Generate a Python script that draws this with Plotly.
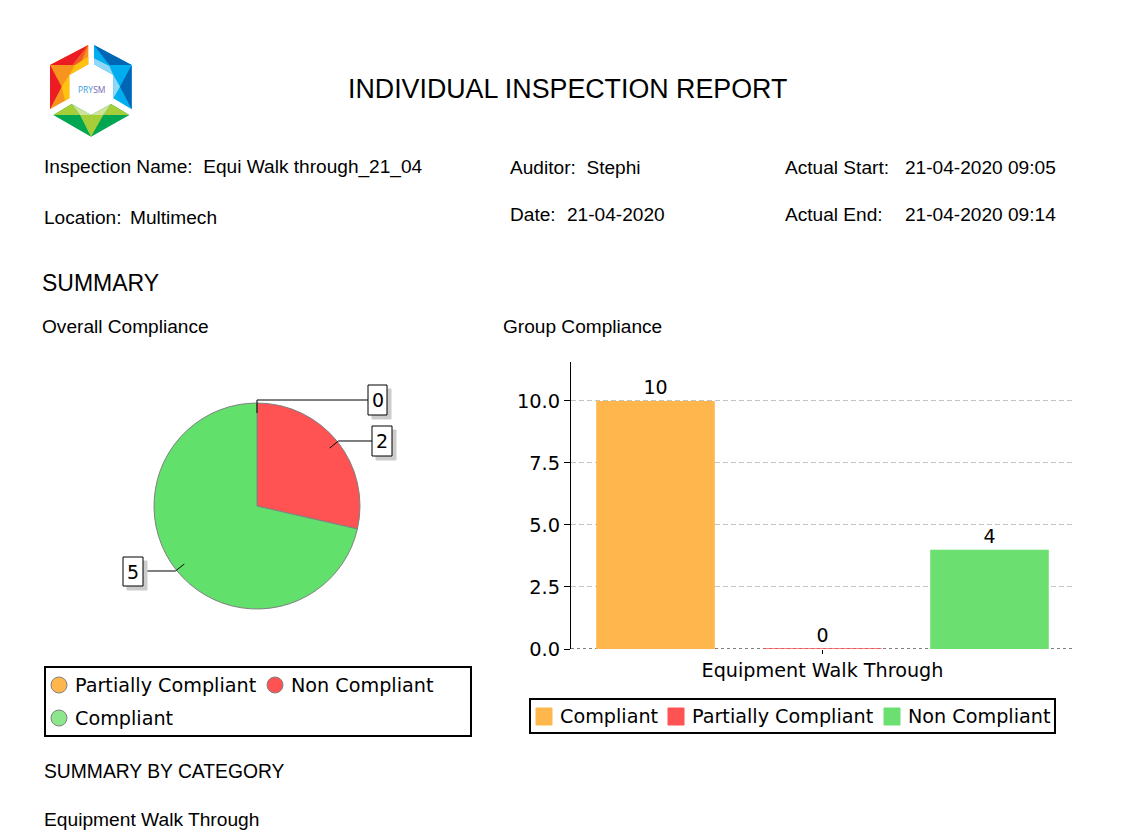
import math
import plotly.graph_objects as go

WIDTH = 1131
HEIGHT = 836

pie_names = ["Partially Compliant", "Non Compliant", "Compliant"]
pie_values = [0, 2, 5]
pie_colors = ["#FFB74D", "#FF5252", "#62E06C"]
pie_legend_colors = ["#FFB74D", "#FF5252", "#8CE68C"]

bar_category = ["Equipment Walk Through"]
bar_names = ["Compliant", "Partially Compliant", "Non Compliant"]
bar_values = [10, 0, 4]
bar_colors = ["#FFB74D", "#FF5252", "#6BE070"]
y_ticks = [0, 2.5, 5, 7.5, 10]

header_font = "Liberation Sans"
chart_font = "DejaVu Sans"


def px(x):
    return x / WIDTH


def py(y):
    return 1 - y / HEIGHT


def text(x, y, s, size=19.1, family=header_font, xanchor="left"):
    # annotations sit 2px in from their anchor
    shift = -2 if xanchor == "left" else 0
    return dict(x=px(x + shift), y=py(y), xref="paper", yref="paper", text=s, showarrow=False,
                xanchor=xanchor, yanchor="middle", font=dict(family=family, size=size, color="black"))


def rect(x0, y0, x1, y1, fill="white", line="black", w=1):
    return dict(type="rect", xref="paper", yref="paper", x0=px(x0), y0=py(y0), x1=px(x1), y1=py(y1),
                fillcolor=fill, line=dict(color=line, width=w))


def logo(points, color):
    # points are in a 3x zoom of the logo, origin at (30, 30)
    pts = [(px(a / 3 + 30), py(b / 3 + 30)) for a, b in points]
    path = "M" + "L".join(f"{a:.5f},{b:.5f}" for a, b in pts) + "Z"
    return dict(type="path", xref="paper", yref="paper", path=path, fillcolor=color, line=dict(width=0))


shapes = []
annotations = []

# logo
shapes += [
    logo([(175, 45), (60, 105), (60, 238), (118, 205), (118, 135), (175, 103)], "#F7941D"),
    logo([(175, 45), (60, 105), (128, 105)], "#ED1C24"),
    logo([(60, 105), (60, 238), (95, 170)], "#ED1C24"),
    logo([(175, 45), (128, 105), (150, 105)], "#F15A24"),
    logo([(135, 105), (175, 80), (175, 103), (118, 135)], "#FFC20E"),
    logo([(95, 170), (118, 135), (118, 205), (105, 212)], "#FFC20E"),
    logo([(192, 45), (305, 105), (305, 238), (250, 205), (250, 135), (192, 103)], "#00AEEF"),
    logo([(192, 45), (305, 105), (238, 105)], "#0066B3"),
    logo([(305, 105), (305, 238), (270, 170)], "#0066B3"),
    logo([(192, 103), (192, 85), (238, 108), (250, 135)], "#8FD8F8"),
    logo([(250, 135), (270, 170), (250, 205)], "#8FD8F8"),
    logo([(70, 255), (125, 222), (183, 255), (243, 222), (298, 255), (183, 320)], "#00A651"),
    logo([(70, 255), (125, 222), (150, 255)], "#A6CE39"),
    logo([(298, 255), (243, 222), (220, 255)], "#A6CE39"),
    logo([(125, 222), (183, 255), (243, 222), (220, 255), (150, 255)], "#D0E39A"),
    logo([(150, 255), (220, 255), (183, 320)], "#A6CE39"),
]
annotations.append(text(91, 90, '<span style="color:#3AA0DC">PRY</span><span style="color:#7B5FB5">SM</span>',
                        size=8.5, family="Open Sans", xanchor="center"))

# header
annotations += [
    text(348, 89, "INDIVIDUAL INSPECTION REPORT", size=26.8),
    text(44, 167, "Inspection Name:&nbsp;&nbsp;Equi Walk through_21_04"),
    text(510, 167, "Auditor:&nbsp;&nbsp;Stephi"),
    text(785, 167, "Actual Start:"),
    text(905, 167, "21-04-2020 09:05"),
    text(44, 217, "Location:"),
    text(130, 217, "Multimech"),
    text(510, 215, "Date:"),
    text(567, 215, "21-04-2020"),
    text(785, 215, "Actual End:"),
    text(905, 215, "21-04-2020 09:14"),
    text(42, 283, "SUMMARY", size=23),
    text(42, 326, "Overall Compliance"),
    text(503, 326, "Group Compliance"),
    text(44, 771, "SUMMARY BY CATEGORY", size=19.3),
    text(44, 819, "Equipment Walk Through", size=19.2),
]

# pie leader lines and value boxes, placed from the slice mid angles
pie_cx, pie_cy, pie_r = 257, 506, 103
boxes = [(368, 385, 387, 415, 400), (372, 426, 392, 456, 441), (123, 557, 143, 586, 571)]
total = sum(pie_values)
start = 0
for val, (bx0, by0, bx1, by1, ly) in zip(pie_values, boxes):
    mid = math.radians((start + val / 2) / total * 360)
    start += val
    ix, iy = pie_cx + 93 * math.sin(mid), pie_cy - 93 * math.cos(mid)
    ex, ey = pie_cx + (pie_cy - ly) / math.cos(mid) * math.sin(mid), ly
    end_x = bx0 if ix > pie_cx or val == 0 else bx1
    path = f"M{px(ix):.5f},{py(iy):.5f}L{px(ex):.5f},{py(ey):.5f}L{px(end_x):.5f},{py(ey):.5f}"
    shapes.append(dict(type="path", xref="paper", yref="paper", path=path, line=dict(color="black", width=1)))
    shapes.append(rect(bx0 + 4, by0 + 4, bx1 + 4, by1 + 4, fill="#CCCCCC", line="#CCCCCC"))
    shapes.append(rect(bx0, by0, bx1, by1))
    annotations.append(text((bx0 + bx1) / 2, (by0 + by1) / 2, str(val), size=19, family=chart_font, xanchor="center"))

# pie legend
shapes.append(rect(45, 667, 471, 736, fill="rgba(0,0,0,0)", w=2))
pie_legend_pos = [(59, 685), (275, 685), (59, 718)]
for name, color, (lx, ly) in zip(pie_names, pie_legend_colors, pie_legend_pos):
    shapes.append(dict(type="circle", xref="paper", yref="paper", x0=px(lx - 8), x1=px(lx + 8),
                       y0=py(ly - 8), y1=py(ly + 8), fillcolor=color, line=dict(color="#808080", width=1)))
    annotations.append(text(lx + 16, ly, name, size=19.2, family=chart_font))

# bar legend
shapes.append(rect(530, 699, 1055, 733, fill="rgba(0,0,0,0)", w=2))
bar_legend_x = [536, 668, 884]
for name, color, lx in zip(bar_names, bar_colors, bar_legend_x):
    shapes.append(rect(lx, 708, lx + 16, 725, fill=color, line=color))
    annotations.append(text(lx + 24, 716, name, size=19.2, family=chart_font))

# dotted zero line under the bars
shapes.append(dict(type="line", xref="x domain", yref="y", x0=0, x1=1, y0=0, y1=0, layer="below",
                   line=dict(color="black", width=1, dash="3px,3px")))

pie = go.Pie(
    labels=pie_names,
    values=pie_values,
    sort=False,
    direction="clockwise",
    rotation=0,
    textinfo="none",
    hoverinfo="label+value",
    showlegend=False,
    marker=dict(colors=pie_colors, line=dict(color="#808080", width=1)),
    domain=dict(x=[px(154), px(360)], y=[py(609), py(403)]),
)

data = [pie]
for name, val, color in zip(bar_names, bar_values, bar_colors):
    data.append(go.Bar(
        x=bar_category,
        y=[val],
        name=name,
        # the empty bar still shows as a thin line on the axis
        marker=dict(color=color, line=dict(color=color, width=1 if val == 0 else 0)),
        text=[val],
        textposition="outside",
        cliponaxis=False,
        textfont=dict(family=chart_font, size=19, color="black"),
        showlegend=False,
    ))

fig = go.Figure(data=data)
fig.update_layout(
    width=WIDTH,
    height=HEIGHT,
    margin=dict(l=0, r=0, t=0, b=0, autoexpand=False),
    paper_bgcolor="white",
    plot_bgcolor="white",
    barmode="group",
    bargap=0.004,
    bargroupgap=0.29,
    shapes=shapes,
    annotations=annotations,
    xaxis=dict(
        domain=[px(571), px(1074)],
        showgrid=False,
        zeroline=False,
        showline=False,
        ticks="outside",
        ticklen=4,
        tickcolor="black",
        ticklabelstandoff=0,
        tickfont=dict(family=chart_font, size=19.2, color="black"),
    ),
    yaxis=dict(
        domain=[py(649), py(362)],
        range=[0, 11.57],
        tickvals=y_ticks,
        tickformat=".1f",
        ticks="outside",
        ticklen=6,
        tickcolor="black",
        showline=True,
        linecolor="black",
        linewidth=1,
        zeroline=False,
        showgrid=True,
        gridcolor="#C4C4C4",
        griddash="5px,3px",
        gridwidth=1,
        tickfont=dict(family=chart_font, size=19.4, color="black"),
    ),
)

fig.write_html("out.html", config={"displayModeBar": False},
               post_script="document.body.style.margin='0';document.documentElement.style.overflow='hidden';")
